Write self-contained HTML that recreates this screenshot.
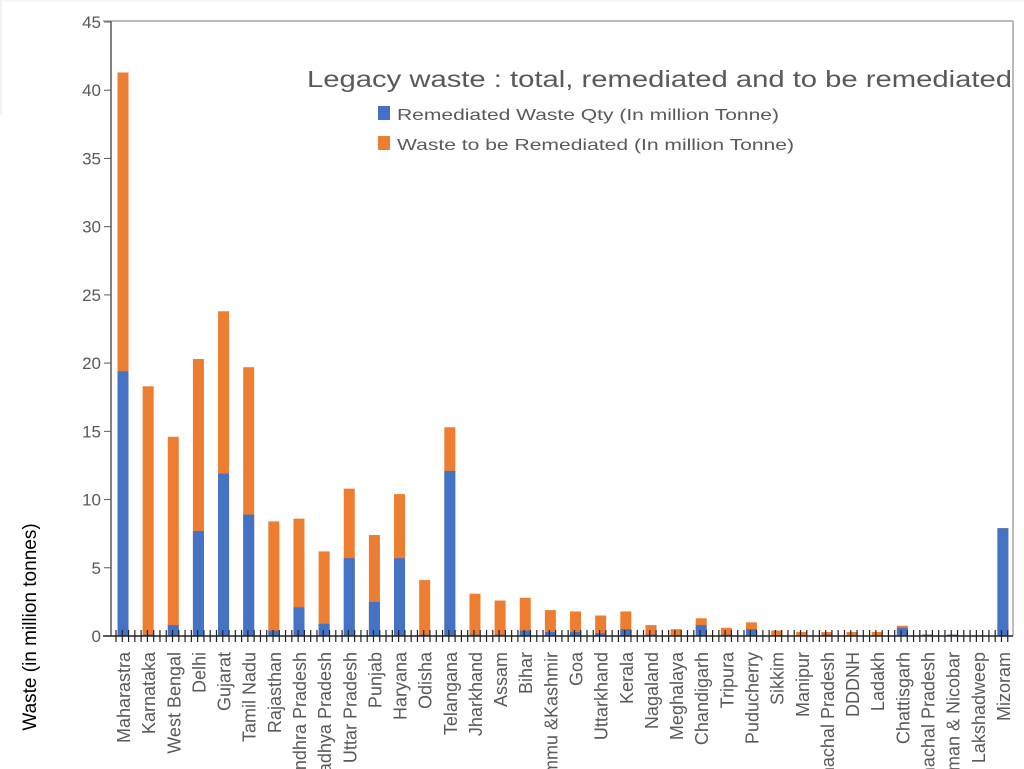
<!DOCTYPE html>
<html><head><meta charset="utf-8"><style>
html,body{margin:0;padding:0;background:#fff;width:1024px;height:769px;overflow:hidden}
svg{display:block;overflow:hidden}
svg text{font-family:"Liberation Sans",sans-serif;fill:#595959}
</style></head><body>
<svg id="s" width="1024" height="769" xmlns="http://www.w3.org/2000/svg">
<defs><clipPath id="c"><rect x="0" y="0" width="1024" height="769"/></clipPath></defs>
<rect x="0" y="0" width="1024" height="769" fill="#fff"/>
<line x1="1" y1="0" x2="1" y2="115" stroke="#e6e6e6"/>
<line x1="0" y1="1" x2="1024" y2="1" stroke="#eee"/>
<line x1="103" y1="21" x2="1013" y2="21" stroke="#a6a6a6" stroke-width="1.5"/>
<line x1="1013" y1="21" x2="1013" y2="636" stroke="#a6a6a6" stroke-width="1.5"/>
<line x1="111" y1="21" x2="111" y2="636" stroke="#595959" stroke-width="1.5"/>
<g id="bars"></g>
<line x1="103" y1="636" x2="1013" y2="636" stroke="#222" stroke-width="1.5"/>
<g id="ticks" stroke="#222" stroke-width="1.2"></g>
<g id="yl" font-size="17" text-anchor="end"></g>
<g clip-path="url(#c)"><g id="xl" font-size="18" text-anchor="end"></g></g>
<text x="307" y="87" font-size="23" textLength="705" lengthAdjust="spacingAndGlyphs">Legacy waste : total, remediated and to be remediated</text>
<rect x="378" y="106" width="12" height="14" fill="#4472c4"/>
<text x="397" y="120" font-size="16" textLength="382" lengthAdjust="spacingAndGlyphs">Remediated Waste Qty (In million Tonne)</text>
<rect x="378" y="136" width="12" height="14" fill="#ed7d31"/>
<text x="397" y="150" font-size="16" textLength="397" lengthAdjust="spacingAndGlyphs">Waste to be Remediated (In million Tonne)</text>
<text transform="translate(36,627) rotate(-90)" font-size="19" text-anchor="middle" style="fill:#000">Waste (in million tonnes)</text>
</svg>
<script>
var d=[["Maharastra",41.3,19.4],["Karnataka",18.3,0.1],["West Bengal",14.6,0.8],["Delhi",20.3,7.7],["Gujarat",23.8,11.9],["Tamil Nadu",19.7,8.9],["Rajasthan",8.4,0.4],["Andhra Pradesh",8.6,2.1],["Madhya Pradesh",6.2,0.9],["Uttar Pradesh",10.8,5.7],["Punjab",7.4,2.5],["Haryana",10.4,5.7],["Odisha",4.1,0.1],["Telangana",15.3,12.1],["Jharkhand",3.1,0.1],["Assam",2.6,0.1],["Bihar",2.8,0.4],["Jammu &Kashmir",1.9,0.3],["Goa",1.8,0.3],["Uttarkhand",1.5,0.2],["Kerala",1.8,0.5],["Nagaland",0.8,0.1],["Meghalaya",0.5,0.05],["Chandigarh",1.3,0.8],["Tripura",0.6,0.1],["Puducherry",1.0,0.5],["Sikkim",0.4,0.05],["Manipur",0.3,0],["Arunachal Pradesh",0.3,0.1],["DDDNH",0.3,0],["Ladakh",0.3,0],["Chattisgarh",0.75,0.6],["Himachal Pradesh",0.1,0.1],["Andaman & Nicobar",0.1,0.1],["Lakshadweep",0.05,0],["Mizoram",7.9,7.9]];
var NS="http://www.w3.org/2000/svg",y0=636,k=614/45;
function el(p,t,a,txt){var e=document.createElementNS(NS,t);for(var i in a)e.setAttribute(i,a[i]);if(txt)e.textContent=txt;document.getElementById(p).appendChild(e);}
d.forEach(function(r,i){var x=123+i*25.14;var ht=r[1]*k,hr=r[2]*k;
el("bars","rect",{x:x-5.5,y:y0-ht,width:11,height:ht,fill:"#ed7d31"});
el("bars","rect",{x:x-5.5,y:y0-hr,width:11,height:hr,fill:"#4472c4"});
el("xl","text",{transform:"translate("+(x+7)+",652) rotate(-90)"},r[0]);});
for(var x=116;x<1010;x+=6.28){el("ticks","line",{x1:x,y1:630,x2:x,y2:642});}
for(var v=0;v<=45;v+=5){var y=y0-v*k;el("yl","text",{x:101,y:y+6},String(v));el("bars","line",{x1:104,y1:y,x2:111,y2:y,stroke:"#595959"});}
</script>
</body></html>
